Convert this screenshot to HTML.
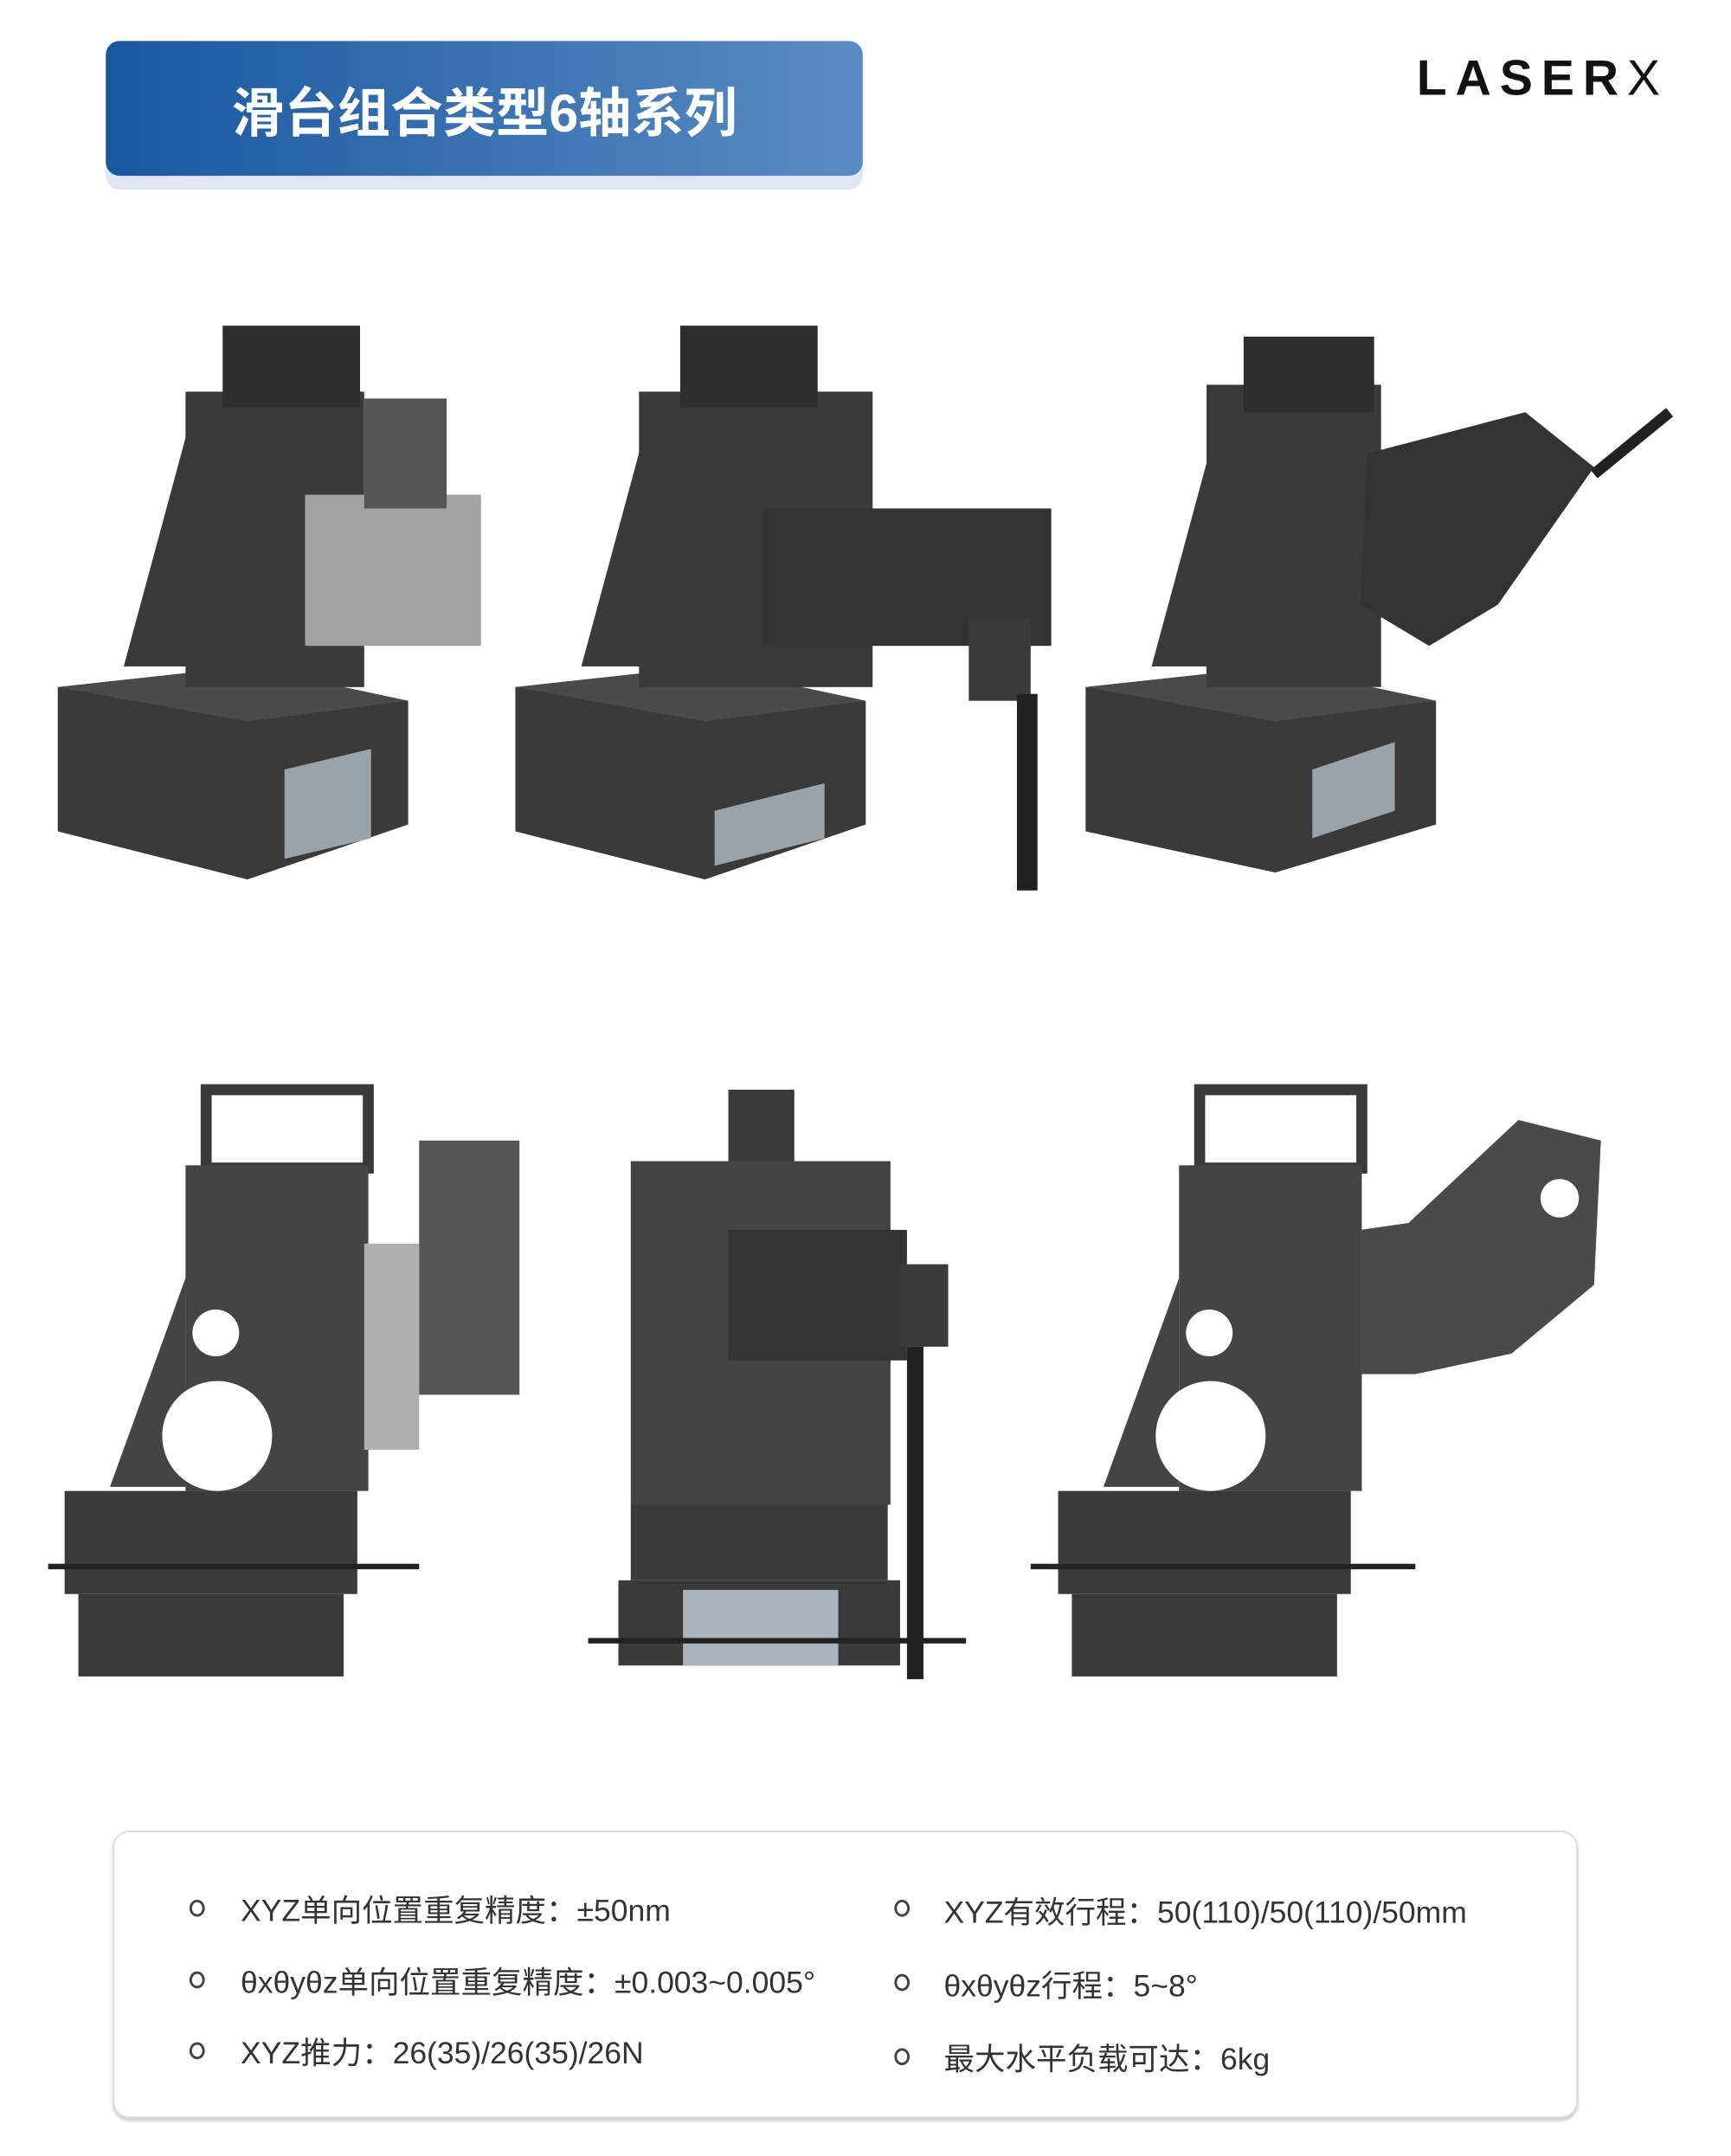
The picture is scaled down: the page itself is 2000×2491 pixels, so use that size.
<!DOCTYPE html>
<html><head><meta charset="utf-8"><style>
body{margin:0;width:2000px;height:2491px;background:#fff;position:relative;overflow:hidden;font-family:"Liberation Sans","Noto Sans CJK SC",sans-serif}
#w{position:absolute;left:0;top:0;width:2000px;height:2491px;transform:scale(0.986);transform-origin:0 0}
.title{position:absolute;left:124px;top:48px;width:887px;height:158px;border-radius:16px;background:linear-gradient(90deg,#1a57a0,#5a8cc2);color:#fff;font-size:62px;font-weight:bold;display:flex;align-items:center;justify-content:center;box-shadow:0 16px 0 #e2e6f3}
.logo{position:absolute;left:1660px;top:58px;font-size:58px;font-weight:bold;letter-spacing:10px;color:#111}
.box{position:absolute;left:132px;top:2145px;width:1713px;height:333px;border:2px solid #ddd;border-radius:20px;box-shadow:0 3px 3px #ccc}
.t{position:absolute;font-size:36px;color:#333;white-space:nowrap}
.b{position:absolute;width:12px;height:14px;border:3px solid #444;border-radius:50%}
</style></head><body><div id="w">
<div class="title">滑台组合类型6轴系列</div>
<div class="logo">LASER<span style="font-weight:normal">X</span></div>
<svg style="position:absolute;left:0;top:0" width="2000" height="2491" viewBox="0 0 1242 1547">
<g fill="#3a3a3a">
<polygon points="42,500 180,485 297,510 297,600 180,640 42,605"/>
<polygon points="42,500 180,485 297,510 180,525" fill="#4a4a4a"/>
<polygon points="90,485 140,300 140,485" />
<rect x="135" y="285" width="130" height="215"/>
<rect x="162" y="237" width="100" height="60" fill="#2e2e2e"/>
<rect x="222" y="360" width="128" height="110" fill="#a2a2a2"/>
<rect x="265" y="290" width="60" height="80" fill="#555"/>
<polygon points="207,560 270,545 270,610 207,625" fill="#9aa3aa"/>
<polygon points="375,500 513,485 630,510 630,600 513,640 375,605"/>
<polygon points="375,500 513,485 630,510 513,525" fill="#4a4a4a"/>
<polygon points="423,485 473,300 473,485"/>
<rect x="465" y="285" width="170" height="215"/>
<rect x="495" y="237" width="100" height="60" fill="#2e2e2e"/>
<rect x="555" y="370" width="210" height="100" fill="#333"/>
<rect x="705" y="450" width="45" height="60"/>
<rect x="740" y="505" width="15" height="143" fill="#222"/>
<polygon points="520,590 600,570 600,610 520,630" fill="#9aa3aa"/>
<polygon points="790,500 928,485 1045,510 1045,600 928,635 790,605"/>
<polygon points="790,500 928,485 1045,510 928,525" fill="#4a4a4a"/>
<polygon points="838,485 888,300 888,485"/>
<rect x="878" y="280" width="127" height="220"/>
<rect x="905" y="245" width="95" height="55" fill="#2e2e2e"/>
<polygon points="995,330 1110,300 1160,340 1090,440 1040,470 990,440" fill="#333"/>
<line x1="1160" y1="345" x2="1215" y2="300" stroke="#222" stroke-width="8"/>
<polygon points="955,560 1015,540 1015,590 955,610" fill="#9aa3aa"/>
<rect x="150" y="793" width="118" height="57" fill="none" stroke="#3a3a3a" stroke-width="8"/>
<rect x="135" y="848" width="133" height="237" fill="#444"/>
<polygon points="80,1082 135,930 135,1082" fill="#444"/>
<rect x="265" y="905" width="40" height="150" fill="#b0b0b0"/>
<rect x="305" y="830" width="73" height="185" fill="#555"/>
<rect x="47" y="1085" width="213" height="75"/>
<rect x="57" y="1160" width="193" height="60"/>
<rect x="35" y="1138" width="270" height="4" fill="#222"/>
<circle cx="157" cy="970" r="17" fill="#fff"/><circle cx="158" cy="1045" r="40" fill="#fff"/>
<rect x="530" y="793" width="48" height="55"/>
<rect x="459" y="845" width="189" height="250" fill="#444"/>
<rect x="459" y="1095" width="187" height="55"/>
<rect x="450" y="1150" width="205" height="62"/>
<rect x="497" y="1157" width="113" height="55" fill="#aab4bc"/>
<rect x="530" y="895" width="130" height="95" fill="#333"/>
<rect x="655" y="920" width="35" height="60"/>
<rect x="660" y="980" width="12" height="242" fill="#222"/>
<rect x="428" y="1192" width="275" height="4" fill="#222"/>
<rect x="873" y="793" width="118" height="57" fill="none" stroke="#3a3a3a" stroke-width="8"/>
<rect x="858" y="848" width="133" height="237" fill="#444"/>
<polygon points="803,1082 858,930 858,1082" fill="#444"/>
<polygon points="990,895 1025,890 1105,815 1165,830 1160,935 1100,985 1030,1000 990,1000" fill="#4a4a4a"/>
<rect x="770" y="1085" width="213" height="75"/>
<rect x="780" y="1160" width="193" height="60"/>
<rect x="750" y="1138" width="280" height="4" fill="#222"/>
<circle cx="880" cy="970" r="17" fill="#fff"/><circle cx="881" cy="1045" r="40" fill="#fff"/>
<circle cx="1135" cy="872" r="14" fill="#fff"/>
</g>
</svg>
<div class="box"></div>
<div class="b" style="left:222px;top:2226px"></div><div class="t" style="left:282px;top:2210px">XYZ单向位置重复精度：±50nm</div>
<div class="b" style="left:222px;top:2310px"></div><div class="t" style="left:282px;top:2294px">θxθyθz单向位置重复精度：±0.003~0.005°</div>
<div class="b" style="left:222px;top:2393px"></div><div class="t" style="left:282px;top:2377px">XYZ推力：26(35)/26(35)/26N</div>
<div class="b" style="left:1048px;top:2226px"></div><div class="t" style="left:1106px;top:2212px">XYZ有效行程：50(110)/50(110)/50mm</div>
<div class="b" style="left:1048px;top:2313px"></div><div class="t" style="left:1106px;top:2298px">θxθyθz行程：5~8°</div>
<div class="b" style="left:1048px;top:2400px"></div><div class="t" style="left:1106px;top:2384px">最大水平负载可达：6kg</div>
</div></body></html>
